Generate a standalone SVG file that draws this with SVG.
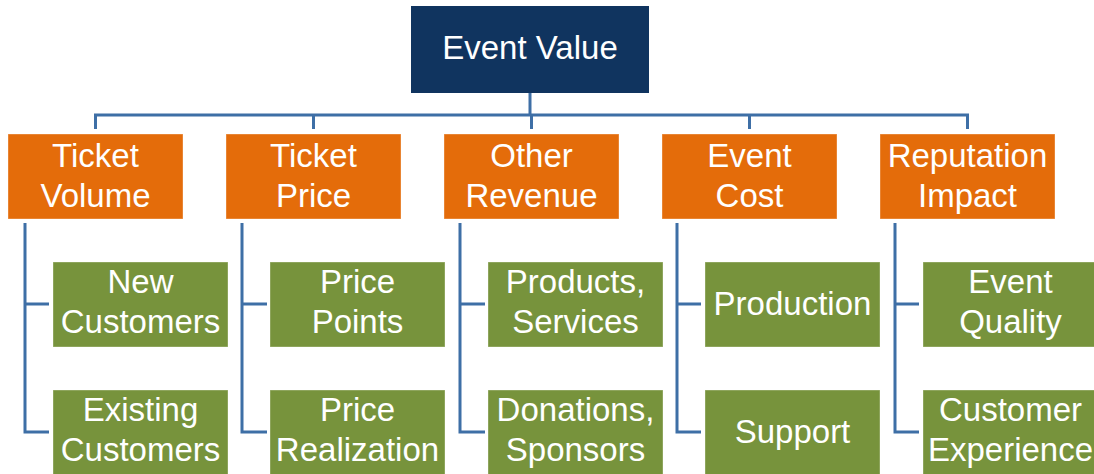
<svg xmlns="http://www.w3.org/2000/svg" width="1094" height="474" viewBox="0 0 1094 474">
  <style>
    .root { fill: #10345f; }
    .cat { fill: #e46c0a; }
    .sub { fill: #77933c; }
    .box { stroke: #ffffff; stroke-opacity: 0.35; stroke-width: 1; }
    .lbl { font-family: "Liberation Sans", Arial, sans-serif; font-size: 33px; fill: #ffffff; text-anchor: middle; }
    .conn { fill: none; stroke: #3e6fa6; stroke-width: 3; }
  </style>

  <!-- connectors -->
  <g id="connectors" class="conn">
    <!-- root to categories -->
    <path d="M530,93 V115"/>
    <path d="M95.5,129 V115 H967.5 V129"/>
    <path d="M313.5,115 V129"/>
    <path d="M531.5,115 V129"/>
    <path d="M749.5,115 V129"/>
    <!-- category to sub-items -->
    <path d="M25,223 V432 H49 M25,304 H49"/>
    <path d="M242,223 V432 H267 M242,304 H267"/>
    <path d="M460,223 V432 H485 M460,304 H485"/>
    <path d="M677,223 V432 H701 M677,304 H701"/>
    <path d="M895,223 V432 H919 M895,304 H919"/>
  </g>

  <!-- root -->
  <g id="event-value">
    <rect class="root" x="411" y="6" width="238" height="87"/>
    <text class="lbl" x="530" y="59" font-size="31">Event Value</text>
  </g>

  <!-- categories -->
  <g id="ticket-volume">
    <rect class="cat box" x="8" y="134" width="175" height="85"/>
    <text class="lbl" x="95.5" y="167">Ticket</text>
    <text class="lbl" x="95.5" y="207">Volume</text>
  </g>
  <g id="ticket-price">
    <rect class="cat box" x="226" y="134" width="175" height="85"/>
    <text class="lbl" x="313.5" y="167">Ticket</text>
    <text class="lbl" x="313.5" y="207">Price</text>
  </g>
  <g id="other-revenue">
    <rect class="cat box" x="444" y="134" width="175" height="85"/>
    <text class="lbl" x="531.5" y="167">Other</text>
    <text class="lbl" x="531.5" y="207">Revenue</text>
  </g>
  <g id="event-cost">
    <rect class="cat box" x="662" y="134" width="175" height="85"/>
    <text class="lbl" x="749.5" y="167">Event</text>
    <text class="lbl" x="749.5" y="207">Cost</text>
  </g>
  <g id="reputation-impact">
    <rect class="cat box" x="880" y="134" width="175" height="85"/>
    <text class="lbl" x="967.5" y="167">Reputation</text>
    <text class="lbl" x="967.5" y="207">Impact</text>
  </g>

  <!-- sub-items -->
  <g id="new-customers">
    <rect class="sub box" x="53" y="262" width="175" height="85"/>
    <text class="lbl" x="140.5" y="293">New</text>
    <text class="lbl" x="140.5" y="333">Customers</text>
  </g>
  <g id="existing-customers">
    <rect class="sub box" x="53" y="390" width="175" height="86"/>
    <text class="lbl" x="140.5" y="421">Existing</text>
    <text class="lbl" x="140.5" y="461">Customers</text>
  </g>
  <g id="price-points">
    <rect class="sub box" x="270" y="262" width="175" height="85"/>
    <text class="lbl" x="357.5" y="293">Price</text>
    <text class="lbl" x="357.5" y="333">Points</text>
  </g>
  <g id="price-realization">
    <rect class="sub box" x="270" y="390" width="175" height="86"/>
    <text class="lbl" x="357.5" y="421">Price</text>
    <text class="lbl" x="357.5" y="461">Realization</text>
  </g>
  <g id="products-services">
    <rect class="sub box" x="488" y="262" width="175" height="85"/>
    <text class="lbl" x="575.5" y="293">Products,</text>
    <text class="lbl" x="575.5" y="333">Services</text>
  </g>
  <g id="donations-sponsors">
    <rect class="sub box" x="488" y="390" width="175" height="86"/>
    <text class="lbl" x="575.5" y="421">Donations,</text>
    <text class="lbl" x="575.5" y="461">Sponsors</text>
  </g>
  <g id="production">
    <rect class="sub box" x="705" y="262" width="175" height="85"/>
    <text class="lbl" x="792.5" y="315">Production</text>
  </g>
  <g id="support">
    <rect class="sub box" x="705" y="390" width="175" height="86"/>
    <text class="lbl" x="792.5" y="443">Support</text>
  </g>
  <g id="event-quality">
    <rect class="sub box" x="923" y="262" width="175" height="85"/>
    <text class="lbl" x="1010.5" y="293">Event</text>
    <text class="lbl" x="1010.5" y="333">Quality</text>
  </g>
  <g id="customer-experience">
    <rect class="sub box" x="923" y="390" width="175" height="86"/>
    <text class="lbl" x="1010.5" y="421">Customer</text>
    <text class="lbl" x="1010.5" y="461">Experience</text>
  </g>
</svg>
